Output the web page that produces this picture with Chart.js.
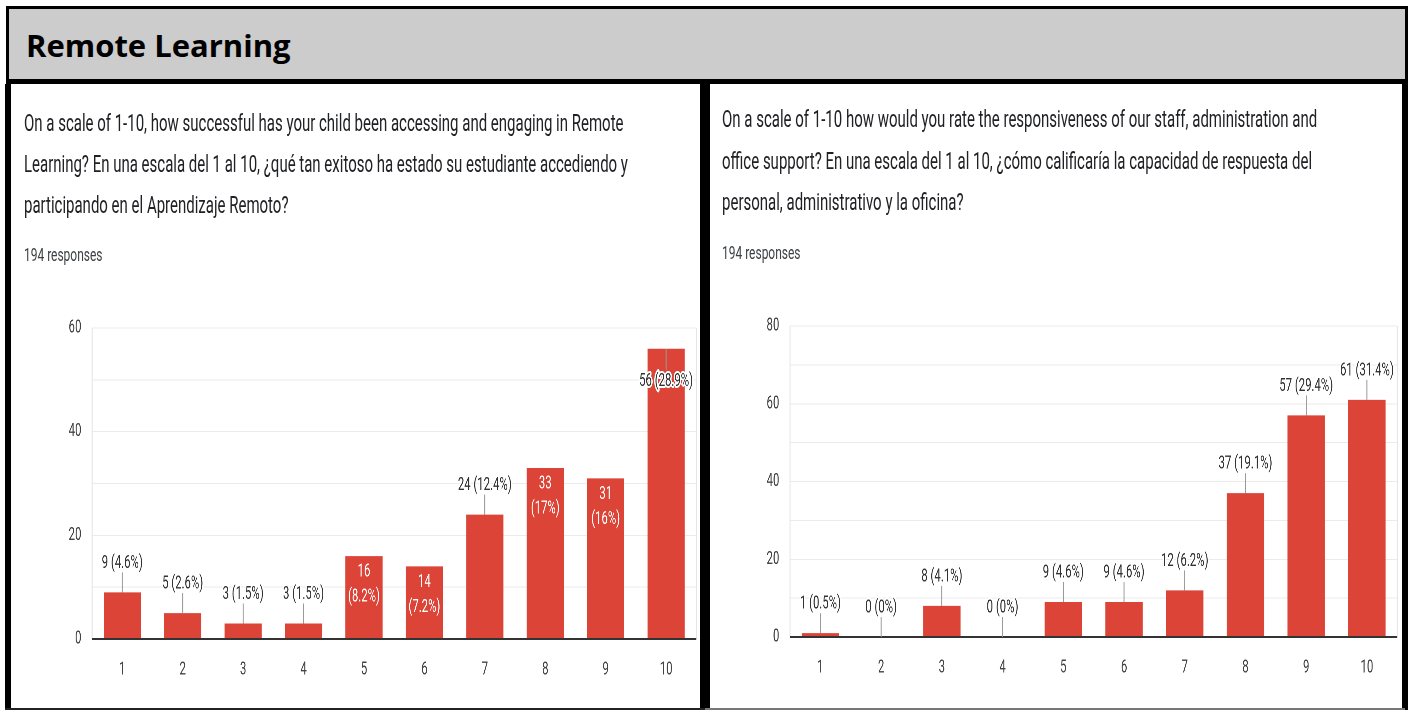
<!DOCTYPE html>
<html>
<head>
<meta charset="utf-8">
<script src="https://cdn.jsdelivr.net/npm/chart.js@4.4.0/dist/chart.umd.min.js"></script>
<style>
  body { margin: 0; width: 1410px; height: 711px; position: relative; background: #fff; overflow: hidden; font-family: Roboto, sans-serif; }
  .header { position: absolute; left: 6px; top: 6px; width: 1396px; height: 70px; background: #cccccc;
            border-style: solid; border-color: #000; border-width: 3px 3px 5px 3px; }
  .title { position: absolute; left: 26px; top: 29.5px; font: bold 31px/31px "Open Sans", sans-serif; color: #000; white-space: nowrap; }
  .bar { position: absolute; background: #000; }
  .squash { position: absolute; top: 84px; width: 1093.6px; height: 624px; transform: scaleX(0.63); transform-origin: 0 0; }
  .question { position: absolute; font-size: 23.8px; color: #202124; white-space: nowrap; }
  .responses { position: absolute; font-size: 19px; line-height: 20px; color: #3c4043; white-space: nowrap; }
  .chartbox { position: absolute; left: 0; width: 1093.6px; height: 389px; }
</style>
</head>
<body>
<div class="header"></div>
<div class="title">Remote Learning</div>

<div class="bar" style="left:5px;top:84px;width:6px;height:626px"></div>
<div class="bar" style="left:700px;top:84px;width:10px;height:626px"></div>
<div class="bar" style="left:1402px;top:84px;width:6px;height:626px"></div>
<div class="bar" style="left:5px;top:708px;width:700px;height:2px;background:#222"></div>
<div class="bar" style="left:705px;top:708px;width:700px;height:2px;background:#777"></div>

<div class="squash" style="left:11px">
  <div class="question" style="left:20.6px;top:18.5px;line-height:41px">On a scale of 1-10, how successful has your child been accessing and engaging in Remote<br>Learning? En una escala del 1 al 10, ¿qué tan exitoso ha estado su estudiante accediendo y<br>participando en el Aprendizaje Remoto?</div>
  <div class="responses" style="left:20.6px;top:161px">194 responses</div>
  <div class="chartbox" style="top:206px"><canvas id="engagement"></canvas></div>
</div>

<div class="squash" style="left:711px">
  <div class="question" style="left:17.5px;top:15px;line-height:41.5px">On a scale of 1-10 how would you rate the responsiveness of our staff, administration and<br>office support? En una escala del 1 al 10, ¿cómo calificaría la capacidad de respuesta del<br>personal, administrativo y la oficina?</div>
  <div class="responses" style="left:17.5px;top:159px">194 responses</div>
  <div class="chartbox" style="top:204px"><canvas id="responsiveness"></canvas></div>
</div>

<script>
// survey data
const ratings = ['1', '2', '3', '4', '5', '6', '7', '8', '9', '10'];
const engagementCounts = [9, 5, 3, 3, 16, 14, 24, 33, 31, 56];
const responsivenessCounts = [1, 0, 8, 0, 9, 9, 12, 37, 57, 61];
const engagementTicks = [0, 20, 40, 60];
const responsivenessTicks = [0, 20, 40, 60, 80];
const totalResponses = 194;

Chart.defaults.font.family = 'Roboto';

function pctText(v) {
  return parseFloat((v / totalResponses * 100).toFixed(1)) + '%';
}

// light frame around the plot + dark zero line
const framePlugin = {
  id: 'frame',
  afterDatasetsDraw(chart) {
    const { ctx, chartArea: a } = chart;
    const y0 = chart.scales.y.getPixelForValue(0);
    ctx.save();
    ctx.strokeStyle = '#e6e6e6';
    ctx.lineWidth = 1.6;
    ctx.beginPath();
    ctx.moveTo(a.left, a.top); ctx.lineTo(a.left, y0);
    ctx.moveTo(a.right, a.top); ctx.lineTo(a.right, y0);
    ctx.stroke();
    ctx.strokeStyle = '#333';
    ctx.lineWidth = 2;
    ctx.beginPath();
    ctx.moveTo(a.left, y0); ctx.lineTo(a.right, y0);
    ctx.stroke();
    ctx.restore();
  }
};

// google forms style value labels
const labelPlugin = {
  id: 'barLabels',
  afterDatasetsDraw(chart) {
    const { ctx, chartArea: a } = chart;
    const values = chart.data.datasets[0].data;
    const meta = chart.getDatasetMeta(0);
    ctx.save();
    ctx.font = '18px Roboto';
    ctx.textAlign = 'center';
    ctx.textBaseline = 'middle';
    meta.data.forEach((bar, i) => {
      const v = values[i];
      const pct = '(' + pctText(v) + ')';
      const full = v + ' ' + pct;
      const h = bar.base - bar.y;
      if (ctx.measureText(pct).width < bar.width - 6 && h > 56) {
        ctx.fillStyle = '#fff';
        ctx.fillText(String(v), bar.x, bar.y + 16);
        ctx.fillText(pct, bar.x, bar.y + 41);
        return;
      }
      ctx.strokeStyle = '#999';
      ctx.lineWidth = 1.6;
      ctx.beginPath();
      let ty;
      if (bar.y - 40 > a.top) {
        ctx.moveTo(bar.x, bar.y); ctx.lineTo(bar.x, bar.y - 20);
        ty = bar.y - 29;
      } else {
        ctx.moveTo(bar.x, bar.y); ctx.lineTo(bar.x, bar.y + 21);
        ty = bar.y + 33;
      }
      ctx.stroke();
      ctx.strokeStyle = '#fff';
      ctx.lineWidth = 4;
      ctx.lineJoin = 'round';
      ctx.strokeText(full, bar.x, ty);
      ctx.fillStyle = '#333';
      ctx.fillText(full, bar.x, ty);
    });
    ctx.restore();
  }
};

function makeChart(id, counts, ticks, yWidth, rightPad) {
  new Chart(document.getElementById(id), {
    type: 'bar',
    data: {
      labels: ratings,
      datasets: [{
        data: counts,
        backgroundColor: '#db4437',
        borderWidth: 0,
        barPercentage: 0.615,
        categoryPercentage: 1
      }]
    },
    options: {
      responsive: true,
      maintainAspectRatio: false,
      animation: false,
      devicePixelRatio: 2,
      layout: { padding: { top: 38, right: rightPad, left: 0, bottom: 0 } },
      plugins: { legend: { display: false }, tooltip: { enabled: false } },
      scales: {
        x: {
          grid: { display: false },
          border: { display: false },
          ticks: { color: '#444', font: { size: 18 }, padding: 12, maxRotation: 0 },
          afterFit(s) { s.height = 40; }
        },
        y: {
          min: 0,
          max: ticks[ticks.length - 1],
          grid: { color: '#ebebeb', drawTicks: false },
          border: { display: false },
          ticks: {
            stepSize: 10,
            color: '#444',
            font: { size: 18 },
            padding: 17,
            callback: v => ticks.includes(v) ? v : ''
          },
          afterFit(s) { s.width = yWidth; }
        }
      }
    },
    plugins: [framePlugin, labelPlugin]
  });
}

makeChart('engagement', engagementCounts, engagementTicks, 128.6, 6.3);
makeChart('responsiveness', responsivenessCounts, responsivenessTicks, 125.4, 4.8);
</script>
</body>
</html>
